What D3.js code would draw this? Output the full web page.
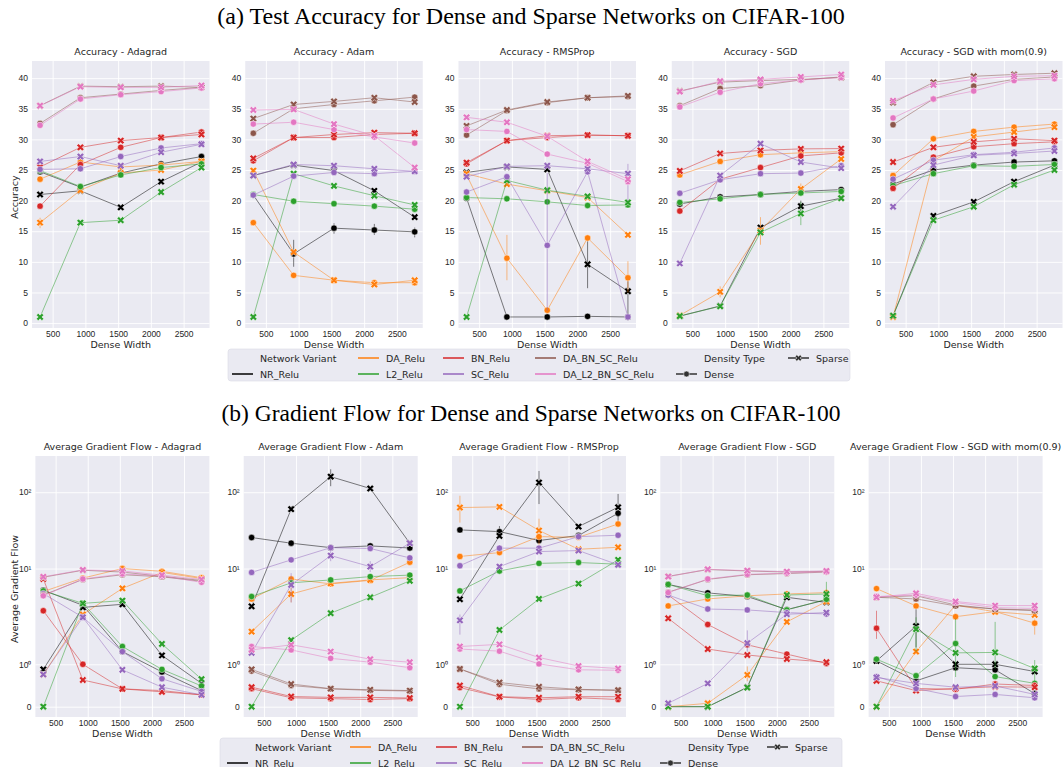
<!DOCTYPE html>
<html>
<head>
<meta charset="utf-8">
<script src="https://cdn.jsdelivr.net/npm/d3@7"></script>
<style>
  body { margin: 0; background: #fff; }
  svg { font-family: "DejaVu Sans", sans-serif; }
</style>
</head>
<body>
<svg id="chart" width="1063" height="767"></svg>
<script>
// ---- data ----
const denseWidths = [308, 924, 1540, 2156, 2772];
const variants = ["NR_Relu", "DA_Relu", "L2_Relu", "BN_Relu", "SC_Relu", "DA_BN_SC_Relu", "DA_L2_BN_SC_Relu"];
const densityTypes = ["Dense", "Sparse"];
const optimizers = ["Adagrad", "Adam", "RMSProp", "SGD", "SGD with mom(0.9)"];
const xTicks = [500, 1000, 1500, 2000, 2500];
const accTicks = [0, 5, 10, 15, 20, 25, 30, 35, 40];
const gfTicks = [0, 1, 10, 100];
const gfTickLabels = ["0", "10\u2070", "10\u00b9", "10\u00b2"];

// rows follow the order of `variants`
const accAdagradDense = [
  [24.7, 22.2, 24.5, 26.0, 27.2], [23.5, 26.3, 25.5, 25.8, 26.4], [24.9, 22.3, 24.2, 25.4, 26.0],
  [19.1, 25.9, 28.7, 30.3, 31.2], [25.1, 25.2, 27.2, 28.6, 29.3], [32.6, 36.8, 37.4, 38.0, 38.5],
  [32.3, 36.6, 37.3, 37.8, 38.4]];
const accAdagradSparse = [
  [21.0, 21.6, 18.9, 23.1, 26.3], [16.4, 21.7, 24.5, 25.0, 26.4], [1.0, 16.4, 16.8, 21.4, 25.4],
  [25.5, 28.7, 29.8, 30.3, 30.8], [26.4, 27.2, 25.7, 27.9, 29.2], [35.5, 38.7, 38.6, 38.7, 38.5],
  [35.5, 38.6, 38.5, 38.5, 38.8]];
const accAdamDense = [
  [20.9, 11.3, 15.5, 15.2, 14.9], [16.4, 7.8, 7.0, 6.6, 6.6], [21.0, 19.9, 19.5, 19.1, 18.6],
  [26.5, 30.3, 30.3, 30.8, 31.0], [20.9, 24.0, 24.6, 24.4, 24.8], [31.0, 35.0, 35.7, 36.3, 36.9],
  [32.5, 32.8, 31.6, 30.4, 29.4]];
const accAdamSparse = [
  [24.1, 25.8, 24.9, 21.6, 17.3], [24.9, 11.6, 7.0, 6.3, 7.0], [1.0, 24.4, 22.4, 20.8, 19.3],
  [26.9, 30.3, 30.8, 31.1, 31.0], [24.1, 25.9, 25.7, 25.2, 24.8], [33.4, 35.7, 36.2, 36.8, 36.1],
  [34.8, 34.9, 32.5, 30.6, 25.4]];
const accRmspropDense = [
  [20.4, 1.0, 1.0, 1.1, 1.0], [24.2, 10.6, 2.1, 13.9, 7.4], [20.5, 20.3, 19.8, 19.2, 19.3],
  [26.0, 29.8, 30.3, 30.7, 30.6], [21.4, 23.9, 12.7, 24.7, 1.0], [30.7, 34.7, 36.0, 36.8, 37.0],
  [31.6, 31.3, 27.6, 26.1, 23.1]];
const accRmspropSparse = [
  [24.6, 25.5, 25.1, 9.6, 5.2], [24.4, 22.7, 21.6, 20.5, 14.4], [1.0, 23.3, 21.7, 20.7, 19.7],
  [26.2, 29.8, 30.6, 30.7, 30.6], [23.9, 25.6, 25.7, 25.2, 24.4], [32.2, 34.8, 36.1, 36.8, 37.1],
  [33.6, 32.8, 30.5, 26.4, 23.5]];
const accSgdDense = [
  [19.45, 20.6, 21.0, 21.5, 21.8], [24.2, 26.4, 27.5, 27.8, 28.0], [19.7, 20.3, 21.0, 21.25, 21.5],
  [18.3, 23.5, 25.4, 27.3, 27.8], [21.2, 23.4, 24.4, 24.5, 25.7], [35.5, 38.3, 38.8, 39.7, 40.2],
  [35.3, 37.7, 39.1, 39.7, 40.1]];
const accSgdSparse = [
  [1.15, 2.8, 15.6, 19.1, 20.4], [1.25, 5.1, 15.1, 21.9, 26.8], [1.15, 2.75, 14.8, 17.9, 20.4],
  [24.85, 27.7, 28.2, 28.45, 28.5], [9.75, 24.1, 29.3, 26.3, 25.3], [37.9, 39.35, 39.6, 39.8, 40.1],
  [37.8, 39.5, 39.8, 40.2, 40.6]];
const accMomDense = [
  [22.7, 25.0, 25.8, 26.3, 26.5], [24.1, 30.1, 31.3, 32.0, 32.5], [22.45, 24.4, 25.7, 25.6, 25.9],
  [22.0, 27.1, 28.8, 29.3, 29.6], [23.5, 26.6, 27.5, 27.9, 28.6], [32.4, 36.6, 38.7, 39.8, 40.2],
  [33.5, 36.6, 37.9, 39.6, 39.9]];
const accMomSparse = [
  [1.2, 17.5, 19.8, 23.1, 25.8], [1.0, 26.5, 30.4, 31.2, 32.0], [1.2, 16.8, 19.0, 22.6, 25.0],
  [26.3, 28.7, 29.6, 30.1, 29.8], [19.0, 25.8, 27.4, 27.7, 28.1], [36.0, 39.3, 40.3, 40.6, 40.8],
  [36.3, 38.9, 39.8, 40.3, 40.4]];

const gfAdagradDense = [
  [5.2, 3.3, 1.3, 0.82, 0.38], [5.0, 7.5, 10.0, 9.2, 7.6], [5.1, 3.5, 1.42, 0.88, 0.49],
  [2.8, 1.0, 0.42, 0.38, 0.28], [4.7, 2.3, 1.3, 0.66, 0.36], [4.5, 7.2, 8.3, 7.8, 6.8],
  [4.4, 7.3, 8.5, 8.0, 6.6]];
const gfAdagradSparse = [
  [0.88, 3.1, 3.4, 1.21, 0.55], [0.76, 2.5, 5.5, 8.9, 7.4], [0, 3.5, 3.8, 1.48, 0.65],
  [7.3, 0.63, 0.42, 0.35, 0.28], [0.76, 2.3, 0.87, 0.46, 0.28], [7.7, 9.5, 9.0, 7.9, 7.0],
  [7.8, 9.6, 9.3, 8.2, 7.2]];
const gfAdamDense = [
  [25.5, 21.5, 18.8, 19.8, 18.6], [4.0, 7.3, 6.3, 7.0, 12.1], [4.3, 6.5, 7.1, 7.85, 8.2],
  [0.425, 0.21, 0.19, 0.17, 0.19], [8.9, 13.0, 18.8, 18.3, 13.8], [0.84, 0.50, 0.42, 0.385, 0.37],
  [1.42, 1.34, 1.14, 1.05, 0.92]];
const gfAdamSparse = [
  [3.2, 60, 160, 112, 21.5], [1.77, 4.64, 6.4, 7.1, 7.6], [0, 1.57, 2.6, 4.2, 6.9],
  [0.46, 0.24, 0.22, 0.22, 0.205], [1.27, 6.1, 14.8, 10.6, 21.5], [0.88, 0.535, 0.425, 0.40, 0.38],
  [1.34, 1.46, 1.30, 1.12, 1.05]];
const gfRmspropDense = [
  [32.1, 30.5, 23.3, 27.1, 53.1], [14.4, 16.2, 26.2, 25.7, 38.4], [5.1, 9.3, 11.7, 12.0, 11.4],
  [0.45, 0.23, 0.17, 0.21, 0.17], [10.9, 18.5, 18.5, 26.2, 27.3], [0.89, 0.53, 0.42, 0.40, 0.385],
  [1.36, 1.31, 1.01, 0.87, 0.86]];
const gfRmspropSparse = [
  [3.96, 26.8, 134, 35.5, 63.6], [63, 64.3, 31.5, 17.9, 19.0], [0, 1.81, 4.0, 6.35, 13.0],
  [0.50, 0.236, 0.21, 0.236, 0.236], [2.1, 10.6, 16.7, 17.2, 11.2], [0.89, 0.57, 0.47, 0.41, 0.39],
  [1.42, 1.47, 1.16, 0.96, 0.90]];
const gfSgdDense = [
  [6.2, 4.8, 4.3, 2.9, 3.9], [3.24, 4.0, 4.4, 4.65, 4.84], [6.2, 4.4, 4.5, 2.87, 3.96],
  [4.5, 1.94, 1.46, 1.24, 1.02], [4.5, 2.95, 2.87, 2.65, 2.54], [4.9, 7.2, 8.3, 8.6, 9.0],
  [4.84, 7.3, 8.4, 8.7, 9.1]];
const gfSgdSparse = [
  [0, 0, 0.46, 4.2, 3.6], [0, 0.08, 0.75, 2.0, 3.7], [0, 0, 0.45, 4.5, 4.64],
  [2.23, 1.36, 1.22, 1.125, 1.05], [0.08, 0.55, 1.5, 2.52, 2.65], [7.9, 9.7, 9.3, 9.0, 9.2],
  [7.85, 9.8, 9.4, 9.1, 9.3]];
const gfMomDense = [
  [1.08, 0.61, 0.92, 0.87, 0.31], [5.46, 3.24, 2.34, 2.73, 1.97], [1.12, 0.73, 1.49, 0.71, 0.55],
  [1.85, 0.43, 0.41, 0.535, 0.50], [0.71, 0.43, 0.24, 0.29, 0.21], [4.2, 4.0, 3.24, 2.95, 2.8],
  [4.3, 4.5, 3.58, 3.08, 3.0]];
const gfMomSparse = [
  [1.08, 1.90, 1.0, 1.0, 0.83], [0, 1.30, 3.33, 2.71, 2.47], [0, 1.83, 1.27, 1.28, 0.90],
  [0.61, 0.38, 0.43, 0.47, 0.46], [0.69, 0.55, 0.46, 0.49, 0.29], [4.2, 4.4, 3.33, 2.95, 2.87],
  [4.2, 4.74, 3.7, 3.27, 3.27]];

// visible error bars: [metric, optimizer, variant, density, point, low, high]
const errorBars = [
  ["acc", 0, 1, 1, 0, 15.5, 17.2],
  ["acc", 1, 0, 0, 1, 9.2, 13.6], ["acc", 1, 0, 0, 2, 14.6, 16.3], ["acc", 1, 0, 0, 3, 14.4, 16.2],
  ["acc", 1, 0, 0, 4, 14.0, 15.6],
  ["acc", 2, 1, 0, 1, 7.0, 14.4], ["acc", 2, 1, 0, 4, 5.0, 10.1], ["acc", 2, 0, 1, 3, 5.7, 13.5],
  ["acc", 2, 0, 1, 4, 1.2, 7.0], ["acc", 2, 4, 0, 2, 2.0, 24.5], ["acc", 2, 4, 1, 4, 20.0, 26.0],
  ["acc", 3, 1, 1, 1, 4.2, 6.0], ["acc", 3, 1, 1, 2, 12.8, 17.3], ["acc", 3, 1, 1, 3, 21.0, 22.8],
  ["acc", 3, 2, 1, 3, 16.0, 19.8], ["acc", 3, 0, 1, 3, 18.3, 20.0],
  ["gf", 1, 0, 1, 2, 120, 200], ["gf", 1, 0, 1, 1, 55, 66], ["gf", 1, 4, 1, 1, 3.6, 8.7],
  ["gf", 1, 4, 1, 2, 12.5, 17], ["gf", 1, 1, 1, 1, 3.6, 5.8], ["gf", 1, 4, 1, 3, 9, 12.5],
  ["gf", 2, 0, 1, 2, 70, 190], ["gf", 2, 0, 1, 4, 40, 95], ["gf", 2, 1, 1, 0, 40, 90],
  ["gf", 2, 1, 1, 2, 20, 45], ["gf", 2, 0, 0, 1, 25, 36], ["gf", 2, 4, 1, 0, 1.7, 2.5],
  ["gf", 3, 2, 1, 4, 3.7, 6.7], ["gf", 3, 1, 1, 2, 0.6, 0.95], ["gf", 3, 4, 1, 2, 1.3, 1.8],
  ["gf", 4, 0, 1, 1, 1.4, 3.0], ["gf", 4, 2, 1, 1, 1.3, 2.3], ["gf", 4, 2, 0, 2, 0.7, 2.2],
  ["gf", 4, 2, 1, 3, 0.9, 2.0], ["gf", 4, 2, 1, 4, 0.6, 1.1], ["gf", 4, 1, 0, 4, 1.7, 2.2],
  ["gf", 4, 3, 0, 0, 1.6, 2.8]
];

const accPanels = [[accAdagradDense, accAdagradSparse], [accAdamDense, accAdamSparse],
  [accRmspropDense, accRmspropSparse], [accSgdDense, accSgdSparse], [accMomDense, accMomSparse]];
const gfPanels = [[gfAdagradDense, gfAdagradSparse], [gfAdamDense, gfAdamSparse],
  [gfRmspropDense, gfRmspropSparse], [gfSgdDense, gfSgdSparse], [gfMomDense, gfMomSparse]];

// ---- style ----
const colors = ["#000000", "#ff7f0e", "#2ca02c", "#d62728", "#9467bd", "#8c564b", "#e377c2"];
const textColor = "#262626";
const xDomain = [184.8, 2895.2];

// matplotlib-like symlog (linthresh 2, linscale 1)
const LT = 2, LC = 1 / (1 - 1 / 10);
function symlog(v) {
  const a = Math.abs(v);
  return Math.sign(v) * (a <= LT ? a * LC : LT * (LC + Math.log10(a / LT)));
}

const svg = d3.select("#chart");

function drawPanel(o) {
  const g = svg.append("g").attr("transform", `translate(${o.left},${o.top})`);
  const x = d3.scaleLinear().domain(xDomain).range([0, o.w]);
  const y = d3.scaleLinear().domain(o.yDomain).range([o.h, 0]);
  const yv = v => y(o.tf(v));

  g.append("rect").attr("width", o.w).attr("height", o.h).attr("fill", "#eaeaf2");

  g.append("g")
    .attr("transform", `translate(0,${o.h})`)
    .call(d3.axisBottom(x).tickValues(xTicks).tickFormat(d3.format("d")).tickSize(-o.h).tickPadding(3))
    .call(a => a.select(".domain").remove())
    .call(a => a.selectAll("line").attr("stroke", "#fff").attr("stroke-width", 0.9))
    .call(a => a.selectAll("text").attr("fill", textColor).style("font-size", "8.5px"));

  g.append("g")
    .call(d3.axisLeft(y).tickValues(o.yTicks.map(o.tf)).tickFormat((d, i) => o.yLabels[i])
      .tickSize(-o.w).tickPadding(4))
    .call(a => a.select(".domain").remove())
    .call(a => a.selectAll("line").attr("stroke", "#fff").attr("stroke-width", 0.9))
    .call(a => a.selectAll("text").attr("fill", textColor).style("font-size", "8.5px"));

  const line = d3.line().x((d, i) => x(denseWidths[i])).y(d => yv(d));
  const plot = g.append("g");

  variants.forEach((v, vi) => {
    o.data.forEach((rows, di) => {
      const vals = rows[vi];
      plot.append("path").datum(vals)
        .attr("d", line).attr("fill", "none")
        .attr("stroke", colors[vi]).attr("stroke-width", 1).attr("stroke-opacity", 0.5);

      errorBars.filter(e => e[0] === o.metric && e[1] === o.index && e[2] === vi && e[3] === di)
        .forEach(e => {
          plot.append("line")
            .attr("x1", x(denseWidths[e[4]])).attr("x2", x(denseWidths[e[4]]))
            .attr("y1", yv(e[5])).attr("y2", yv(e[6]))
            .attr("stroke", colors[vi]).attr("stroke-width", 1).attr("stroke-opacity", 0.5);
        });

      plot.append("g").selectAll("path").data(vals).join("path")
        .attr("transform", (d, i) => `translate(${x(denseWidths[i])},${yv(d)})` + (di === 1 ? " rotate(45)" : ""))
        .attr("d", di === 0 ? d3.symbol(d3.symbolCircle, 32)() : d3.symbol(d3.symbolCross, 34)())
        .attr("fill", colors[vi]).attr("stroke", "#fff").attr("stroke-width", 0.5);
    });
  });

  g.append("text")
    .attr("x", o.w / 2).attr("y", -6)
    .attr("text-anchor", "middle").attr("fill", textColor)
    .style("font-size", "9.5px").text(o.title);

  g.append("text")
    .attr("x", o.w / 2).attr("y", o.h + 20)
    .attr("text-anchor", "middle").attr("fill", textColor)
    .style("font-size", "9.5px").text("Dense Width");
}

const topLeft = 32, topStep = 213.25, topW = 177.5;
optimizers.forEach((opt, i) => {
  drawPanel({
    left: topLeft + i * topStep, top: 61, w: topW, h: 267,
    data: accPanels[i], metric: "acc", index: i,
    yDomain: [-0.8, 42.8], tf: v => v, yTicks: accTicks, yLabels: accTicks.map(String),
    title: "Accuracy - " + opt
  });
});

const botLeft = 35.4, botStep = 208.3, botW = 174;
optimizers.forEach((opt, i) => {
  drawPanel({
    left: botLeft + i * botStep, top: 456, w: botW, h: 261,
    data: gfPanels[i], metric: "gf", index: i,
    yDomain: [-0.27, 6.57], tf: symlog, yTicks: gfTicks, yLabels: gfTickLabels,
    title: "Average Gradient Flow - " + opt
  });
});

// y labels
svg.append("text").attr("transform", "translate(14,197) rotate(-90)")
  .attr("text-anchor", "middle").attr("dominant-baseline", "central")
  .attr("fill", textColor).style("font-size", "9.5px").text("Accuracy");
svg.append("text").attr("transform", "translate(14,589) rotate(-90)")
  .attr("text-anchor", "middle").attr("dominant-baseline", "central")
  .attr("fill", textColor).style("font-size", "9.5px").text("Average Gradient Flow");

// section titles
svg.append("text").attr("x", 531).attr("y", 16)
  .attr("text-anchor", "middle").attr("dominant-baseline", "central")
  .style("font-family", "'Liberation Serif', serif").style("font-size", "24px")
  .attr("fill", "#000").text("(a) Test Accuracy for Dense and Sparse Networks on CIFAR-100");
svg.append("text").attr("x", 531).attr("y", 413)
  .attr("text-anchor", "middle").attr("dominant-baseline", "central")
  .style("font-family", "'Liberation Serif', serif").style("font-size", "23.5px")
  .attr("fill", "#000").text("(b) Gradient Flow for Dense and Sparse Networks on CIFAR-100");

// legends
function drawLegend(bx, by, bw, bh, cols, rows) {
  const g = svg.append("g");
  g.append("rect").attr("x", bx).attr("y", by).attr("width", bw).attr("height", bh)
    .attr("rx", 3).attr("fill", "#eaeaf2").attr("stroke", "#dadae4").attr("stroke-width", 0.6);
  const entries = [
    { c: 0, r: 0, label: "Network Variant" },
    { c: 0, r: 1, label: variants[0], color: colors[0] },
    { c: 1, r: 0, label: variants[1], color: colors[1] },
    { c: 1, r: 1, label: variants[2], color: colors[2] },
    { c: 2, r: 0, label: variants[3], color: colors[3] },
    { c: 2, r: 1, label: variants[4], color: colors[4] },
    { c: 3, r: 0, label: variants[5], color: colors[5] },
    { c: 3, r: 1, label: variants[6], color: colors[6] },
    { c: 4, r: 0, label: "Density Type" },
    { c: 4, r: 1, label: densityTypes[0], color: "#333", marker: 0 },
    { c: 5, r: 0, label: densityTypes[1], color: "#333", marker: 1 }
  ];
  entries.forEach(e => {
    const tx = cols[e.c], ty = rows[e.r];
    if (e.color) {
      g.append("line").attr("x1", tx - 28).attr("x2", tx - 7).attr("y1", ty).attr("y2", ty)
        .attr("stroke", e.color).attr("stroke-width", 1.5);
      if (e.marker !== undefined) {
        g.append("path")
          .attr("transform", `translate(${tx - 17.5},${ty})` + (e.marker === 1 ? " rotate(45)" : ""))
          .attr("d", e.marker === 0 ? d3.symbol(d3.symbolCircle, 26)() : d3.symbol(d3.symbolCross, 26)())
          .attr("fill", e.color).attr("stroke", "#fff").attr("stroke-width", 0.5);
      }
    }
    g.append("text").attr("x", tx).attr("y", ty).attr("dominant-baseline", "central")
      .attr("fill", textColor).style("font-size", "9.5px").text(e.label);
  });
}
drawLegend(228, 349, 622, 32, [260, 386, 471, 563, 704, 816], [358, 374]);
drawLegend(220, 738, 622, 32, [255, 378, 464, 550, 688, 795], [747, 763]);
</script>
</body>
</html>
